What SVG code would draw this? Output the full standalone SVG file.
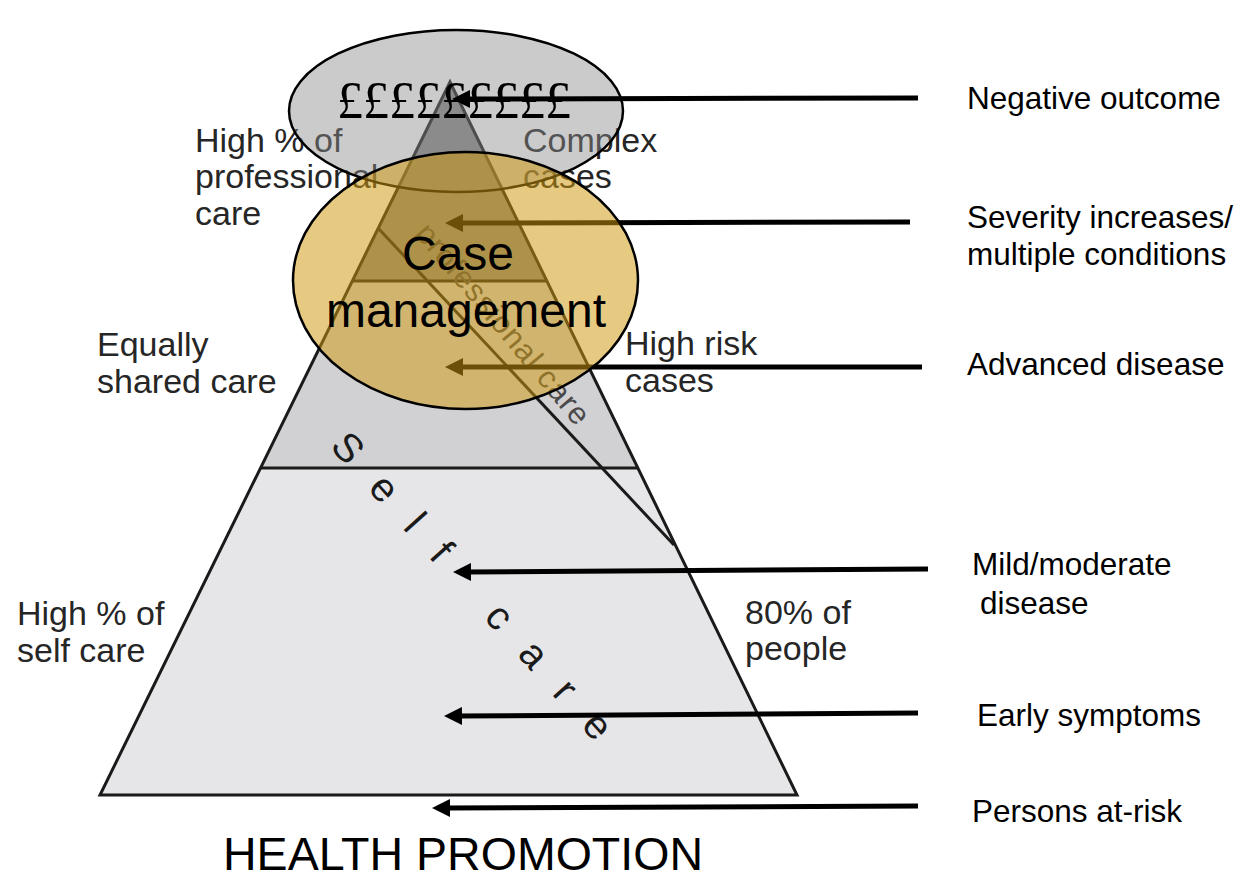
<svg xmlns="http://www.w3.org/2000/svg" width="1241" height="882" viewBox="0 0 1241 882">
<style>
  .edge{fill:none;stroke:#1a1a1a;stroke-width:3;stroke-linejoin:miter}
  .side{font-family:"Liberation Sans",Arial,sans-serif;font-size:34px;fill:#262626}
  .right{font-family:"Liberation Sans",Arial,sans-serif;font-size:31.5px;fill:#000}
  .arrow{stroke:#000;stroke-width:5;fill:none;marker-end:url(#head)}
  .ell{stroke:#000;stroke-width:2.5}
</style>
<defs>
  <marker id="head" viewBox="0 0 18 18" markerWidth="18" markerHeight="18" refX="4" refY="9" orient="auto" markerUnits="userSpaceOnUse">
    <path d="M0,0 L18,9 L0,18 z" fill="#000"/>
  </marker>
</defs>
<rect width="1241" height="882" fill="#fff"/>

<g id="pyramid">
  <polygon points="450,82 546.8,281 352.3,281" fill="#8a8a8a"/>
  <polygon points="352.3,281 546.8,281 637.9,468 260.5,468" fill="#d1d1d3"/>
  <polygon points="260.5,468 637.9,468 797,795 100,795" fill="#e6e6e8"/>
  <polygon class="edge" points="450,82 797,795 100,795"/>
  <line class="edge" x1="260.5" y1="468" x2="637.9" y2="468"/>
  <line class="edge" x1="352.3" y1="281" x2="546.8" y2="281"/>
  <line class="edge" x1="378" y1="228" x2="674" y2="545"/>
  <text id="selfcare" font-family="Liberation Sans,Arial,sans-serif" font-size="40" fill="#1a1a1a" letter-spacing="30" transform="translate(329,447) rotate(48)">Self care</text>
  <text id="profcare" font-family="Liberation Sans,Arial,sans-serif" font-size="31" fill="#4a4a4a" letter-spacing="1" transform="translate(414,234) rotate(50)">professional care</text>
</g>

<g id="side-labels">
  <text class="side" x="195" y="152">High % of</text>
  <text class="side" x="195" y="188">professional</text>
  <text class="side" x="195" y="225">care</text>
  <text class="side" x="523" y="152">Complex</text>
  <text class="side" x="523" y="188">cases</text>
  <text class="side" x="97" y="356">Equally</text>
  <text class="side" x="97" y="393">shared care</text>
  <text class="side" x="625" y="355">High risk</text>
  <text class="side" x="625" y="392">cases</text>
  <text class="side" x="17" y="625">High % of</text>
  <text class="side" x="17" y="662">self care</text>
  <text class="side" x="745" y="624">80% of</text>
  <text class="side" x="745" y="660">people</text>
</g>

<g id="cost-ellipse">
  <ellipse class="ell" cx="456" cy="111" rx="167" ry="81" fill="#8c8c8c" fill-opacity="0.45"/>
</g>

<g id="connectors">
  <line class="arrow" x1="918" y1="98" x2="466" y2="99"/>
  <line class="arrow" x1="910" y1="222" x2="459" y2="223"/>
  <line class="arrow" x1="922" y1="367" x2="459" y2="367"/>
  <line class="arrow" x1="928" y1="569" x2="467" y2="572"/>
  <line class="arrow" x1="918" y1="713" x2="458" y2="716"/>
  <line class="arrow" x1="918" y1="806" x2="446" y2="808"/>
</g>

<g id="case-management">
  <ellipse class="ell" cx="465.5" cy="280.5" rx="172.5" ry="128.5" fill="#d19a0f" fill-opacity="0.52"/>
  <text font-family="Liberation Sans,Arial,sans-serif" font-size="48" fill="#000" text-anchor="middle" x="458" y="270">Case</text>
  <text font-family="Liberation Sans,Arial,sans-serif" font-size="48" fill="#000" text-anchor="middle" x="466" y="327">management</text>
</g>

<g id="cost">
  <text font-family="Liberation Serif,Times New Roman,serif" font-size="52" fill="#000" x="337" y="118">£££££££££</text>
</g>

<g id="right-labels">
  <text class="right" x="967" y="109">Negative outcome</text>
  <text class="right" x="967" y="228">Severity increases/</text>
  <text class="right" x="967" y="265">multiple conditions</text>
  <text class="right" x="967" y="375">Advanced disease</text>
  <text class="right" x="972" y="575">Mild/moderate</text>
  <text class="right" x="980" y="614">disease</text>
  <text class="right" x="977" y="726">Early symptoms</text>
  <text class="right" x="972" y="822">Persons at-risk</text>
</g>

<g id="health-promotion">
  <text font-family="Liberation Sans,Arial,sans-serif" font-size="46" fill="#000" x="223" y="870" textLength="480" lengthAdjust="spacingAndGlyphs">HEALTH PROMOTION</text>
</g>
</svg>
